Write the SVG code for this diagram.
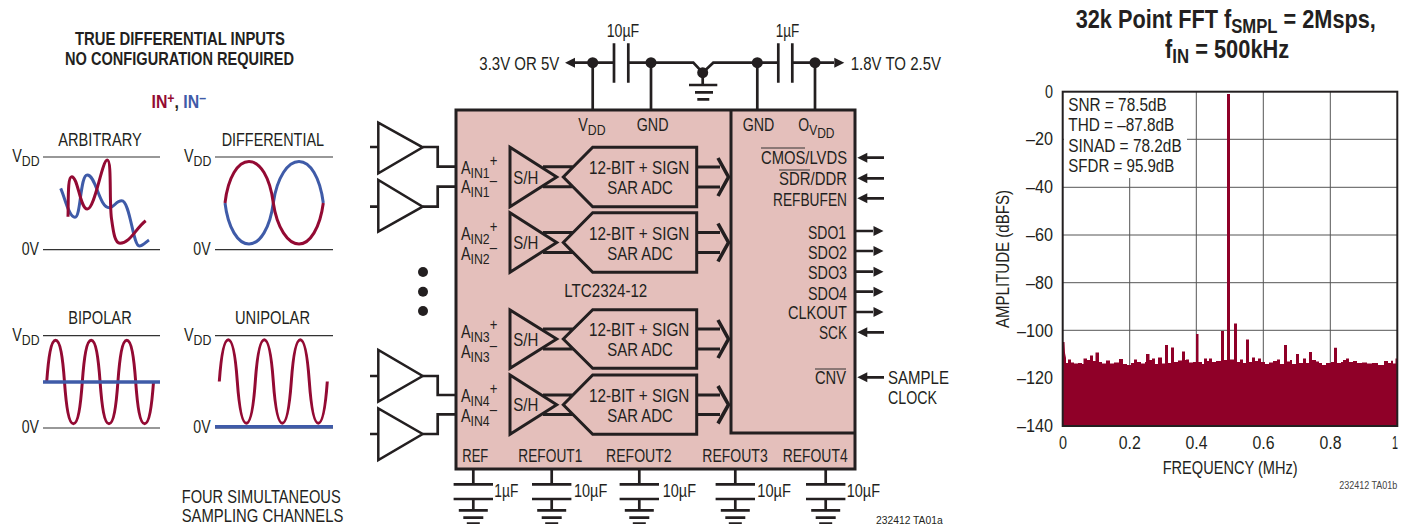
<svg xmlns="http://www.w3.org/2000/svg" width="1416" height="524" viewBox="0 0 1416 524">
<style>
text{font-family:"Liberation Sans",Arial,sans-serif;font-size:17.5px;fill:#231f20}
.b{font-weight:bold}
.sub{font-size:15px}
.sup{font-size:16px}
.w{fill:none;stroke:#231f20;stroke-width:2.7}
.l{fill:none;stroke:#333;stroke-width:1.2}
.a{fill:#231f20;stroke:none}
.red{fill:none;stroke:#930a33;stroke-width:3}
.blue{fill:none;stroke:#3f5ba8;stroke-width:3}
.tri{fill:#fff;stroke:#231f20;stroke-width:2.5}
.sh{fill:none;stroke:#231f20;stroke-width:3}
.hd{fill:none;stroke:#231f20;stroke-width:3.6}
.g{fill:none;stroke:#555;stroke-width:1}
.s{fill:#8f0028}
</style>
<defs>
<g id="gnd"><path class="w" d="M0,0V15.3M-19.7,15.3H19.7M-19.7,30H19.7M0,30V41.3M-14.5,41.3H14.5M-10,48.7H10M-6.5,54.5H6.5"/></g>
</defs>
<rect width="1416" height="524" fill="#fff"/>

<g id="heading">
<text class="b" x="75" y="45" textLength="210" lengthAdjust="spacingAndGlyphs">TRUE DIFFERENTIAL INPUTS</text>
<text class="b" x="65" y="65" textLength="229" lengthAdjust="spacingAndGlyphs">NO CONFIGURATION REQUIRED</text>
<text class="b" transform="translate(151.5,107.5) scale(.88,1)" style="font-size:18px"><tspan fill="#930a33">IN<tspan dy="-5" font-size="14">+</tspan></tspan><tspan dy="5">, </tspan><tspan fill="#3f5ba8">IN<tspan dy="-5" font-size="14">–</tspan></tspan></text>
</g>

<g id="chart-arbitrary">
<text x="58.3" y="145.7" textLength="83.4" lengthAdjust="spacingAndGlyphs">ARBITRARY</text>
<text transform="translate(12.3,161.7) scale(.82,1)">V<tspan class="sub" dy="4">DD</tspan></text>
<text x="21.7" y="255" textLength="17.3" lengthAdjust="spacingAndGlyphs">0V</text>
<path class="l" d="M43,157H160M43,249.7H160"/>
<path class="blue" d="M60.7,188.3C65,198 69,217.5 75,217.3C81,217 80,175 87.3,175C96,175 99,207.7 109.3,207.7C114,207.7 116,200.7 121.7,200.7C130,200.7 133,246 139.3,246C143,246 146,242 149,240"/>
<path class="red" d="M68,216.7C68.5,200 67.5,176.7 71.7,176.7C78,176.7 80,209 87.3,209C95,209 102,160 107.3,160C112,160 109,205 111.7,220C113.5,233 115,243.3 120,243.3C130,243.3 136,228 145.7,220.7"/>
</g>
<g id="chart-differential">
<text x="221.7" y="145.7" textLength="102.3" lengthAdjust="spacingAndGlyphs">DIFFERENTIAL</text>
<text transform="translate(184,161.7) scale(.82,1)">V<tspan class="sub" dy="4">DD</tspan></text>
<text x="193.3" y="255" textLength="17.3" lengthAdjust="spacingAndGlyphs">0V</text>
<path class="l" d="M215,157H333M215,249.7H333"/>
<path class="blue" d="M225,203C228,228 238,244 249,244C260,244 270,228 273.3,203C277,177 288,161.5 299,161.5C310,161.5 320,177 323.3,203"/>
<path class="red" d="M225,203C228,177 238,161.5 249,161.5C260,161.5 270,177 273.3,203C277,228 288,244 299,244C310,244 320,228 323.3,203"/>
</g>
<g id="chart-bipolar">
<text x="68.3" y="324" textLength="63.4" lengthAdjust="spacingAndGlyphs">BIPOLAR</text>
<text transform="translate(12.3,340.7) scale(.82,1)">V<tspan class="sub" dy="4">DD</tspan></text>
<text x="21.7" y="433.3" textLength="17.3" lengthAdjust="spacingAndGlyphs">0V</text>
<path class="l" d="M43,335.7H160M43,428H160"/>
<path class="red" d="M46.7,382c1.8,-25 4.4,-41.7 8.9,-41.7c4.5,0 7.1,16.7 8.9,41.7c1.8,25 4.4,41.7 8.9,41.7c4.5,0 7.1,-16.7 8.9,-41.7c1.8,-25 4.4,-41.7 8.9,-41.7c4.5,0 7.1,16.7 8.9,41.7c1.8,25 4.4,41.7 8.9,41.7c4.5,0 7.1,-16.7 8.9,-41.7c1.8,-25 4.4,-41.7 8.9,-41.7c4.5,0 7.1,16.7 8.9,41.7c1.8,25 4.4,41.7 8.9,41.7c4.5,0 7.1,-16.7 8.9,-41.7"/>
<path class="blue" style="stroke-width:3.6" d="M43,382H160"/>
</g>
<g id="chart-unipolar">
<text x="235" y="324" textLength="75" lengthAdjust="spacingAndGlyphs">UNIPOLAR</text>
<text transform="translate(184,340.7) scale(.82,1)">V<tspan class="sub" dy="4">DD</tspan></text>
<text x="193.3" y="433.3" textLength="17.3" lengthAdjust="spacingAndGlyphs">0V</text>
<path class="l" d="M215,335.7H333M215,428H333"/>
<path class="red" d="M219.3,381.5c1.8,-25 4.5,-41.7 9,-41.7c4.5,0 7.2,16.7 9,41.7c1.8,25 4.5,41.7 9,41.7c4.5,0 7.2,-16.7 9,-41.7c1.8,-25 4.5,-41.7 9,-41.7c4.5,0 7.2,16.7 9,41.7c1.8,25 4.5,41.7 9,41.7c4.5,0 7.2,-16.7 9,-41.7c1.8,-25 4.5,-41.7 9,-41.7c4.5,0 7.2,16.7 9,41.7c1.8,25 4.5,41.7 9,41.7c4.5,0 7.2,-16.7 9,-41.7"/>
<path class="blue" style="stroke-width:3.6" d="M215,426.7H333"/>
<text x="181.7" y="502.7" textLength="159" lengthAdjust="spacingAndGlyphs">FOUR SIMULTANEOUS</text>
<text x="181.7" y="522.3" textLength="161.6" lengthAdjust="spacingAndGlyphs">SAMPLING CHANNELS</text>
</g>

<g id="chip">
<rect x="456" y="110" width="399" height="359" fill="#e4bfbb" stroke="#231f20" stroke-width="3"/>
<path class="w" d="M731,110V433H855" style="stroke-width:3"/>
<text x="564.3" y="296.7" textLength="83" lengthAdjust="spacingAndGlyphs">LTC2324-12</text>
<text transform="translate(578.3,130.7) scale(.82,1)">V<tspan class="sub" dy="4.3">DD</tspan></text>
<text x="636.7" y="130.7" textLength="31.8" lengthAdjust="spacingAndGlyphs">GND</text>
<text x="742.7" y="130.7" textLength="31.6" lengthAdjust="spacingAndGlyphs">GND</text>
<text transform="translate(798.3,130.7) scale(.8,1)">O<tspan class="sub" dy="4.3">V</tspan><tspan class="sub" dy="3.3">DD</tspan></text>
<text x="761" y="164" textLength="86" lengthAdjust="spacingAndGlyphs">CMOS/LVDS</text>
<path class="l" d="M761,148H805M779,170H810M815,369H846"/>
<text x="779" y="185" textLength="68" lengthAdjust="spacingAndGlyphs">SDR/DDR</text>
<text x="773" y="205.7" textLength="74" lengthAdjust="spacingAndGlyphs">REFBUFEN</text>
<text x="808" y="239" textLength="38" lengthAdjust="spacingAndGlyphs">SDO1</text>
<text x="808" y="259" textLength="39" lengthAdjust="spacingAndGlyphs">SDO2</text>
<text x="808" y="279" textLength="39" lengthAdjust="spacingAndGlyphs">SDO3</text>
<text x="808" y="299.5" textLength="39" lengthAdjust="spacingAndGlyphs">SDO4</text>
<text x="788" y="319" textLength="59" lengthAdjust="spacingAndGlyphs">CLKOUT</text>
<text x="819" y="339" textLength="28" lengthAdjust="spacingAndGlyphs">SCK</text>
<text x="815" y="384" textLength="31" lengthAdjust="spacingAndGlyphs">CNV</text>
<text x="462.3" y="462.3" textLength="26" lengthAdjust="spacingAndGlyphs">REF</text>
<text x="518.3" y="462.3" textLength="64" lengthAdjust="spacingAndGlyphs">REFOUT1</text>
<text x="606" y="462.3" textLength="65.7" lengthAdjust="spacingAndGlyphs">REFOUT2</text>
<text x="702.3" y="462.3" textLength="65.4" lengthAdjust="spacingAndGlyphs">REFOUT3</text>
<text x="782.7" y="462.3" textLength="65" lengthAdjust="spacingAndGlyphs">REFOUT4</text>
</g>

<g id="channel-1">
<text transform="translate(461,174) scale(.82,1)">A<tspan class="sub" dy="4">IN1</tspan><tspan class="sup" dy="-12">+</tspan></text>
<text transform="translate(461,193.3) scale(.82,1)">A<tspan class="sub" dy="4">IN1</tspan><tspan class="sup" dy="-11">–</tspan></text>
<path class="sh" d="M510,147.3V206.7L556.7,177Z"/>
<path class="sh" d="M543,166.7H572.7M543,186.7H572.7M696.7,147.3H592.7L563.3,177L592.7,206.7H696.7Z"/>
<path class="sh" d="M696.7,167H720M696.7,187H720"/><path class="hd" d="M718,158L728.5,177L718,196"/>
<text x="513.3" y="184.3" textLength="25" lengthAdjust="spacingAndGlyphs">S/H</text>
<text x="589" y="174" textLength="100.3" lengthAdjust="spacingAndGlyphs">12-BIT + SIGN</text>
<text x="607.3" y="194" textLength="65.4" lengthAdjust="spacingAndGlyphs">SAR ADC</text>
</g>
<g id="channel-2">
<text transform="translate(461,240) scale(.82,1)">A<tspan class="sub" dy="4">IN2</tspan><tspan class="sup" dy="-12">+</tspan></text>
<text transform="translate(461,260) scale(.82,1)">A<tspan class="sub" dy="4">IN2</tspan><tspan class="sup" dy="-11">–</tspan></text>
<path class="sh" d="M510,212.7V272.3L556.7,242.5Z"/>
<path class="sh" d="M543,232.5H572.7M543,252.5H572.7M696.7,212.7H592.7L563.3,242.5L592.7,272.3H696.7Z"/>
<path class="sh" d="M696.7,232.5H720M696.7,252.5H720"/><path class="hd" d="M718,223.5L728.5,242.5L718,261.5"/>
<text x="513.3" y="248.8" textLength="25" lengthAdjust="spacingAndGlyphs">S/H</text>
<text x="589" y="240" textLength="100.3" lengthAdjust="spacingAndGlyphs">12-BIT + SIGN</text>
<text x="607.3" y="260" textLength="65.4" lengthAdjust="spacingAndGlyphs">SAR ADC</text>
</g>
<g id="channel-3">
<text transform="translate(461,338.3) scale(.82,1)">A<tspan class="sub" dy="4">IN3</tspan><tspan class="sup" dy="-12">+</tspan></text>
<text transform="translate(461,358.3) scale(.82,1)">A<tspan class="sub" dy="4">IN3</tspan><tspan class="sup" dy="-11">–</tspan></text>
<path class="sh" d="M510,310V368.3L556.7,339Z"/>
<path class="sh" d="M543,329H572.7M543,349H572.7M696.7,309.7H592.7L563.3,339L592.7,368.3H696.7Z"/>
<path class="sh" d="M696.7,329H720M696.7,349H720"/><path class="hd" d="M718,320L728.5,339L718,358"/>
<text x="513.3" y="346" textLength="25" lengthAdjust="spacingAndGlyphs">S/H</text>
<text x="589" y="336" textLength="100.3" lengthAdjust="spacingAndGlyphs">12-BIT + SIGN</text>
<text x="607.3" y="355.7" textLength="65.4" lengthAdjust="spacingAndGlyphs">SAR ADC</text>
</g>
<g id="channel-4">
<text transform="translate(461,401.7) scale(.82,1)">A<tspan class="sub" dy="4">IN4</tspan><tspan class="sup" dy="-12">+</tspan></text>
<text transform="translate(461,421.7) scale(.82,1)">A<tspan class="sub" dy="4">IN4</tspan><tspan class="sup" dy="-11">–</tspan></text>
<path class="sh" d="M510,375V434.3L556.7,404.7Z"/>
<path class="sh" d="M543,395H572.7M543,414.5H572.7M696.7,375H592.7L563.3,404.7L592.7,434.3H696.7Z"/>
<path class="sh" d="M696.7,395H720M696.7,414.5H720"/><path class="hd" d="M718,386L728.5,404.7L718,423.5"/>
<text x="513.3" y="410.7" textLength="25" lengthAdjust="spacingAndGlyphs">S/H</text>
<text x="589" y="401.7" textLength="100.3" lengthAdjust="spacingAndGlyphs">12-BIT + SIGN</text>
<text x="607.3" y="421.7" textLength="65.4" lengthAdjust="spacingAndGlyphs">SAR ADC</text>
</g>

<g id="connectors">
<path class="w" d="M370,147H378M370,206.7H378M370,376H378M370,434H378"/>
<path class="w" d="M422.7,147H437.7V166.7H456M422.7,206.7H437.7V186.7H456M422.7,376H437.7V395H456M422.7,434H437.7V414.3H456"/>
<path class="w" d="M575,62.7H614M628.3,62.7H693.3L702.7,72.7L713.3,62.7H778.3M792.3,62.7H834"/>
<path class="w" d="M614,43.3V82.7M628.3,43.3V82.7M778.3,43.3V82.7M792.3,43.3V82.7"/>
<path class="w" d="M592.7,62.7V110M651,62.7V110M757.3,62.7V110M815,62.7V110"/>
<path class="w" d="M702.7,72.7V85M689,85H717.3M695,92.3H713M697.3,99.3H709.3"/>
<path class="a" d="M565,62.7L575,57.7V67.7ZM844.3,62.7L834.3,57.7V67.7Z"/>
<circle class="a" cx="592.7" cy="62.7" r="5.5"/><circle class="a" cx="651" cy="62.7" r="5.5"/><circle class="a" cx="702.7" cy="72.7" r="5.5"/><circle class="a" cx="757.3" cy="62.7" r="5.5"/><circle class="a" cx="815" cy="62.7" r="5.5"/>
<path class="w" d="M884,157.7H867M884,178.3H867M884,198.3H867M884,332.3H867M884,377.3H867M855,231H873M855,251H873M855,271.7H873M855,291.7H873M855,312H873"/>
<path class="a" d="M857.3,157.7l10,-5v10ZM857.3,178.3l10,-5v10ZM857.3,198.3l10,-5v10ZM857.3,332.3l10,-5v10ZM857.3,377.3l10,-5v10ZM883.5,231l-10,-5v10ZM883.5,251l-10,-5v10ZM883.5,271.7l-10,-5v10ZM883.5,291.7l-10,-5v10ZM883.5,312l-10,-5v10Z"/>
<use href="#gnd" x="473.3" y="469"/><use href="#gnd" x="551.7" y="469"/><use href="#gnd" x="639.3" y="469"/><use href="#gnd" x="735.3" y="469"/><use href="#gnd" x="825.7" y="469"/>
</g>

<g id="buffer-1"><path class="tri" d="M378.3,122.7V173.3L422.7,147.3Z"/></g>
<g id="buffer-2"><path class="tri" d="M378.3,180V231.7L422.7,206.7Z"/></g>
<g id="buffer-3"><path class="tri" d="M378.3,350V401.7L422.7,376Z"/></g>
<g id="buffer-4"><path class="tri" d="M378.3,408.3V460L422.7,434Z"/></g>
<g id="dots"><circle class="a" cx="423" cy="272" r="5"/><circle class="a" cx="423" cy="291.7" r="5"/><circle class="a" cx="423" cy="311" r="5"/></g>

<g id="labels">
<text x="606.7" y="36.7" textLength="32.6" lengthAdjust="spacingAndGlyphs">10µF</text>
<text x="775.7" y="36.7" textLength="23.6" lengthAdjust="spacingAndGlyphs">1µF</text>
<text x="479.3" y="70" textLength="80" lengthAdjust="spacingAndGlyphs">3.3V OR 5V</text>
<text x="850.7" y="70" textLength="90.3" lengthAdjust="spacingAndGlyphs">1.8V TO 2.5V</text>
<text x="888" y="384" textLength="61" lengthAdjust="spacingAndGlyphs">SAMPLE</text>
<text x="888" y="404" textLength="49" lengthAdjust="spacingAndGlyphs">CLOCK</text>
<text x="494.3" y="497.3" textLength="24" lengthAdjust="spacingAndGlyphs">1µF</text>
<text x="574" y="497.3" textLength="33.3" lengthAdjust="spacingAndGlyphs">10µF</text>
<text x="662.7" y="497.3" textLength="33.3" lengthAdjust="spacingAndGlyphs">10µF</text>
<text x="757.3" y="497.3" textLength="33.7" lengthAdjust="spacingAndGlyphs">10µF</text>
<text x="846.7" y="497.3" textLength="33.3" lengthAdjust="spacingAndGlyphs">10µF</text>
<text x="876" y="523.5" style="font-size:11.5px" textLength="66.7" lengthAdjust="spacingAndGlyphs">232412 TA01a</text>
</g>

<g id="fft">
<text class="b" transform="translate(1075.7,28) scale(.835,1)" style="font-size:26px">32k Point FFT f<tspan dy="5" font-size="20">SMPL</tspan><tspan dy="-5"> = 2Msps,</tspan></text>
<text class="b" transform="translate(1165,58.3) scale(.84,1)" style="font-size:26px">f<tspan dy="5" font-size="20">IN</tspan><tspan dy="-5"> = 500kHz</tspan></text>
<path class="g" d="M1062.7,139.3H1397.3M1062.7,187.3H1397.3M1062.7,235H1397.3M1062.7,282.7H1397.3M1062.7,330.3H1397.3M1062.7,378.2H1397.3M1129.7,91.7V426M1196.3,91.7V426M1263.3,91.7V426M1330.3,91.7V426"/>
<rect x="1064" y="93" width="123" height="85" fill="#fff"/>
<path class="s" d="M1063,426V342L1064.5,342L1065,353L1066,358V363H1068V359.5H1071V362.5H1074V363.5H1078V363H1082V364H1083.5V358.5H1087V360H1090V355.5H1093V361H1095.5V352.5H1099V362H1102V363.5H1106V360.5H1110V363.5H1114V362.5H1119V359H1123V364H1127V365H1131V363H1134V359.5H1137V362H1141V363.5H1145V362H1146V354H1149.5V360H1152V358.5H1155V364H1158V357.5H1162V363.5H1165V345H1168V363H1171V347.5H1174V362H1178V360.5H1182V351.5H1185V360H1186V359.5H1189V362.5H1193V362H1196V334H1198.5V362H1202V364H1204V358.5H1207V361H1209V358.5H1212V362H1216V361H1221V331H1224V360H1227V94H1230V359.5H1234V323.5H1237V362H1240V359.5H1243V363H1246V339.5H1249V362H1252V357.5H1255V361H1258V358.5H1261V362H1265V364H1269V362.5H1273V361H1277V359.5H1280V364H1284V345H1287V361.5H1290V360H1292V364H1296V354H1299V363H1303V358.5H1306V363H1309V352H1312V360H1316V361.5H1319V363H1322V365H1326V363H1331V362H1334V347.7H1337V363H1341V362H1343V360H1346V358.5H1349V362H1353V361H1357V363H1362V362.5H1367V363.5H1372V363H1378V365H1384V361H1388V363H1391V360.7H1393V363.5H1395.5V358.5H1397.3V426Z"/>
<rect x="1062.7" y="91.7" width="334.6" height="334.3" fill="none" stroke="#231f20" stroke-width="2"/>
<text x="1068.3" y="111" textLength="98.4" lengthAdjust="spacingAndGlyphs">SNR = 78.5dB</text>
<text x="1068.3" y="131" textLength="106" lengthAdjust="spacingAndGlyphs">THD = –87.8dB</text>
<text x="1068.3" y="151.7" textLength="113.4" lengthAdjust="spacingAndGlyphs">SINAD = 78.2dB</text>
<text x="1068.3" y="171.7" textLength="106" lengthAdjust="spacingAndGlyphs">SFDR = 95.9dB</text>
<text x="1045" y="98" textLength="8" lengthAdjust="spacingAndGlyphs">0</text>
<text x="1026" y="145" textLength="27" lengthAdjust="spacingAndGlyphs">–20</text>
<text x="1026" y="193" textLength="27" lengthAdjust="spacingAndGlyphs">–40</text>
<text x="1026" y="241" textLength="27" lengthAdjust="spacingAndGlyphs">–60</text>
<text x="1026" y="289" textLength="27" lengthAdjust="spacingAndGlyphs">–80</text>
<text x="1017" y="336.5" textLength="36" lengthAdjust="spacingAndGlyphs">–100</text>
<text x="1017" y="384" textLength="36" lengthAdjust="spacingAndGlyphs">–120</text>
<text x="1017" y="432" textLength="36" lengthAdjust="spacingAndGlyphs">–140</text>
<text x="1059" y="449" textLength="8" lengthAdjust="spacingAndGlyphs">0</text>
<text x="1118.7" y="449" textLength="22" lengthAdjust="spacingAndGlyphs">0.2</text>
<text x="1185.5" y="449" textLength="22" lengthAdjust="spacingAndGlyphs">0.4</text>
<text x="1252.5" y="449" textLength="22" lengthAdjust="spacingAndGlyphs">0.6</text>
<text x="1319.5" y="449" textLength="22" lengthAdjust="spacingAndGlyphs">0.8</text>
<text x="1392" y="449" textLength="6" lengthAdjust="spacingAndGlyphs">1</text>
<text x="1162.7" y="474" textLength="135" lengthAdjust="spacingAndGlyphs">FREQUENCY (MHz)</text>
<text transform="translate(1009,328) rotate(-90)" textLength="138" lengthAdjust="spacingAndGlyphs">AMPLITUDE (dBFS)</text>
<text x="1339.3" y="488.7" style="font-size:10px;fill:#444" textLength="58" lengthAdjust="spacingAndGlyphs">232412 TA01b</text>
</g>
</svg>
